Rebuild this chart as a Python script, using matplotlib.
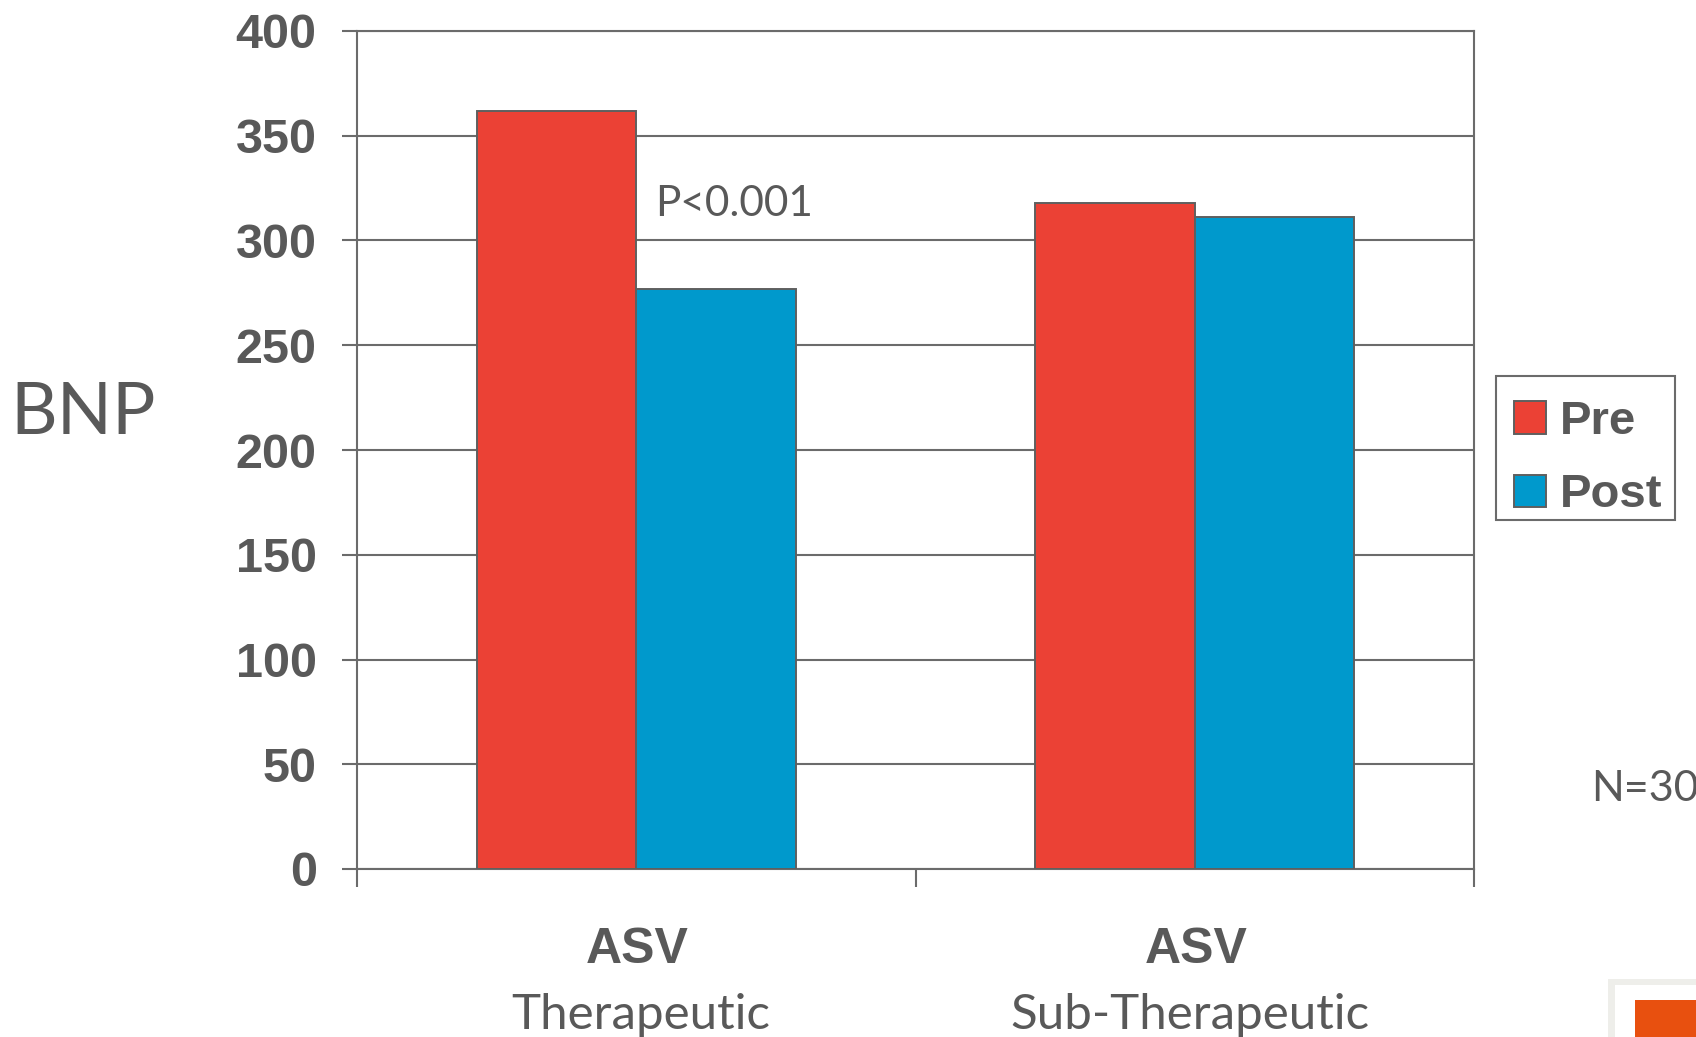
import matplotlib
matplotlib.use("Agg")
import matplotlib.pyplot as plt
from matplotlib.patches import Rectangle

# Mean BNP before and after ASV, by therapy adequacy
groups = ["Therapeutic", "Sub-Therapeutic"]
group_prefix = ["ASV", "ASV"]
series_names = ["Pre", "Post"]
pre_values = [362, 318]
post_values = [277, 311]
y_ticks = [0, 50, 100, 150, 200, 250, 300, 350, 400]

RED = "#EB4135"
BLUE = "#0099CC"
EDGE = "#5f5f5f"
TXT = "#595959"
LINE = "#6b6b6b"

W, H = 1696, 1037
fig = plt.figure(figsize=(W / 100, H / 100), dpi=100)
fig.patch.set_facecolor("white")

def fx(px):
    return px / W

def fy(py):
    return 1 - py / H

ax = fig.add_axes([fx(357), fy(869), (1474 - 357) / W, (869 - 31) / H])
ax.set_xlim(-0.5, 1.5)
ax.set_ylim(0, 400)

bw = 0.286
xs = list(range(len(groups)))
ax.bar([x - bw / 2 for x in xs], pre_values, width=bw, color=RED,
       edgecolor=EDGE, linewidth=1.4, zorder=3, label=series_names[0])
ax.bar([x + bw / 2 for x in xs], post_values, width=bw, color=BLUE,
       edgecolor=EDGE, linewidth=1.4, zorder=3, label=series_names[1])

# horizontal gridlines
ax.set_yticks(y_ticks)
ax.yaxis.grid(True, color=LINE, linewidth=1.5, zorder=1)
ax.set_axisbelow(True)
for s in ax.spines.values():
    s.set_color(LINE)
    s.set_linewidth(1.5)

ax.tick_params(axis="y", direction="out", length=11, width=1.5, color=LINE,
               pad=18, labelsize=35, labelcolor=TXT)
for lab in ax.get_yticklabels():
    lab.set_fontweight("bold")
    lab.set_family("Liberation Sans")

# category boundary ticks on x
ax.set_xticks([-0.5, 0.5, 1.5])
ax.set_xticklabels([])
ax.tick_params(axis="x", direction="out", length=13, width=1.5, color=LINE)

# category labels (two lines each)
label_x = [637, 1196]
sub_x = [641, 1190]
for px, pre in zip(label_x, group_prefix):
    fig.text(fx(px), fy(963), pre, ha="center", va="baseline",
             fontsize=36, fontweight="bold", family="Liberation Sans", color=TXT)
for px, g in zip(sub_x, groups):
    fig.text(fx(px), fy(1029), g, ha="center", va="baseline",
             fontsize=35.5, family="Lato", color=TXT)

# axis title
fig.text(fx(10), fy(434), "BNP", ha="left", va="baseline", fontsize=52,
         family="Lato", color=TXT)

# significance note
fig.text(fx(655), fy(216), "P<0.001", ha="left", va="baseline", fontsize=30.5,
         family="Lato", color=TXT)

# sample size
fig.text(fx(1591), fy(801), "N=30", ha="left", va="baseline", fontsize=31,
         family="Lato", color=TXT)

# legend entries, with a separately drawn frame
leg = fig.legend(loc="upper left", bbox_to_anchor=(fx(1514), fy(400)),
                 frameon=False,
                 prop={"family": "Liberation Sans", "weight": "bold", "size": 34},
                 labelcolor=TXT, handlelength=0.68, handleheight=0.68,
                 handletextpad=0.3, labelspacing=0.62, borderpad=0,
                 borderaxespad=0)
fig.patches.append(Rectangle((fx(1496), fy(520)), (1675 - 1496) / W,
                             (520 - 376) / H, transform=fig.transFigure,
                             facecolor="none", edgecolor=LINE, linewidth=1.5,
                             zorder=2))

# corner logo fragment
fig.patches.append(Rectangle((fx(1608), 0), fx(1696) - fx(1608), fy(979),
                             transform=fig.transFigure, facecolor="#eeeeea",
                             edgecolor="none", zorder=0))
fig.patches.append(Rectangle((fx(1615), 0), fx(1696) - fx(1615), fy(985),
                             transform=fig.transFigure, facecolor="white",
                             edgecolor="none", zorder=0))
fig.patches.append(Rectangle((fx(1635), 0), fx(1696) - fx(1635), fy(1000),
                             transform=fig.transFigure, facecolor="#E8500F",
                             edgecolor="none", zorder=1))

fig.savefig("out.png", dpi=100, facecolor="white")
